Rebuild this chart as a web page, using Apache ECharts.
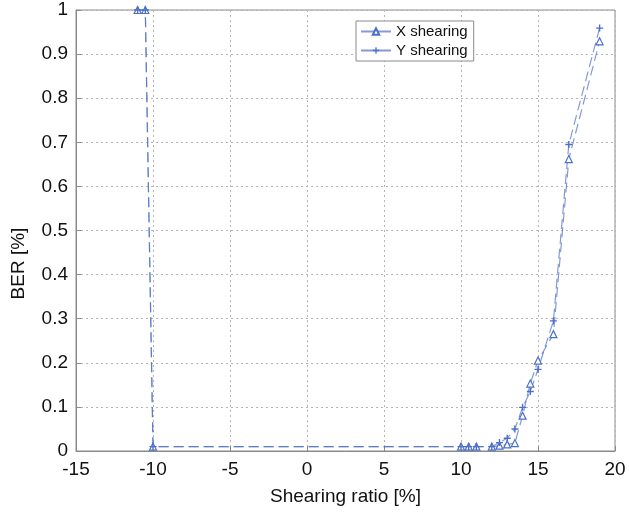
<!DOCTYPE html>
<html>
<head>
<meta charset="utf-8">
<script src="https://cdn.jsdelivr.net/npm/echarts@6/dist/echarts.min.js"></script>
<style>
  html, body { margin: 0; padding: 0; background: #fff; }
  #chart { width: 629px; height: 517px; }
</style>
</head>
<body>
<div id="chart"></div>
<script>
// Shearing ratio [%] at which BER was measured
const shearRatio = [-11, -10.5, -10, 10, 10.5, 11, 12, 12.5, 13, 13.5, 14, 14.5, 15, 16, 17, 19];
// BER [%] for shearing along X
const berX = [1, 1, 0.01, 0.01, 0.01, 0.01, 0.01, 0.012, 0.015, 0.018, 0.08, 0.153, 0.205, 0.265, 0.662, 0.929];
// BER [%] for shearing along Y
const berY = [1, 1, 0.01, 0.01, 0.01, 0.01, 0.01, 0.019, 0.029, 0.05, 0.099, 0.135, 0.185, 0.295, 0.695, 0.959];
// Axis ticks
const xTicks = [-15, -10, -5, 0, 5, 10, 15, 20];
const yTicks = [0, 0.1, 0.2, 0.3, 0.4, 0.5, 0.6, 0.7, 0.8, 0.9, 1];

const seriesNames = ['X shearing', 'Y shearing'];
const lineColor = '#4d6fc6';
const fontFamily = "'Liberation Sans', Arial, sans-serif";
const plusSymbol = 'path://M4,0H6V4H10V6H6V10H4V6H0V4H4Z';

const pairs = ys => shearRatio.map((x, i) => [x, ys[i]]);

const chart = echarts.init(document.getElementById('chart'), null, { renderer: 'canvas' });

const axisCommon = {
  axisLine: { show: true, onZero: false, lineStyle: { color: '#8a8a8a', width: 1 } },
  axisTick: { show: true, inside: true, length: 5, lineStyle: { color: '#8a8a8a' } },
  splitLine: { show: true, lineStyle: { color: '#b5b5b5', type: [2, 3], width: 1 } },
  axisLabel: { color: '#111', fontSize: 19, fontFamily: fontFamily },
  nameTextStyle: { color: '#111', fontSize: 19, fontFamily: fontFamily }
};

chart.setOption({
  animation: false,
  backgroundColor: '#fff',
  grid: {
    left: 76, top: 10, width: 539, height: 441,
    show: true, borderColor: '#8a8a8a', borderWidth: 1, backgroundColor: '#fff'
  },
  legend: {
    data: seriesNames,
    orient: 'vertical',
    left: 356, top: 21,
    itemWidth: 30, itemHeight: 8, itemGap: 4,
    padding: [3, 6, 3, 4],
    borderColor: '#8a8a8a', borderWidth: 1, backgroundColor: '#fff',
    textStyle: { color: '#111', fontSize: 15, fontFamily: fontFamily },
    lineStyle: { type: 'solid' }
  },
  xAxis: Object.assign({}, axisCommon, {
    type: 'value',
    min: xTicks[0], max: xTicks[xTicks.length - 1], interval: 5,
    name: 'Shearing ratio [%]', nameLocation: 'middle', nameGap: 36,
    axisLabel: Object.assign({}, axisCommon.axisLabel, { margin: 9 })
  }),
  yAxis: Object.assign({}, axisCommon, {
    type: 'value',
    min: yTicks[0], max: yTicks[yTicks.length - 1], interval: 0.1,
    name: 'BER [%]', nameLocation: 'middle', nameGap: 48,
    // title sits a little below the axis midpoint
    nameTextStyle: Object.assign({}, axisCommon.nameTextStyle, { padding: [0, 66, 0, 0] }),
    axisLabel: Object.assign({}, axisCommon.axisLabel, { margin: 8 })
  }),
  series: [
    {
      name: seriesNames[0], type: 'line', data: pairs(berX),
      symbol: 'triangle', symbolSize: 7, showSymbol: true,
      color: lineColor,
      lineStyle: { color: lineColor, width: 1.2, type: [10, 5], opacity: 0.7 },
      itemStyle: { color: '#fff', borderColor: lineColor, borderWidth: 1.2 }
    },
    {
      name: seriesNames[1], type: 'line', data: pairs(berY),
      symbol: plusSymbol, symbolSize: 7, showSymbol: true,
      color: lineColor,
      lineStyle: { color: lineColor, width: 1.2, type: [10, 5], opacity: 0.7 },
      itemStyle: { color: lineColor, borderWidth: 0 }
    }
  ]
});
</script>
</body>
</html>
